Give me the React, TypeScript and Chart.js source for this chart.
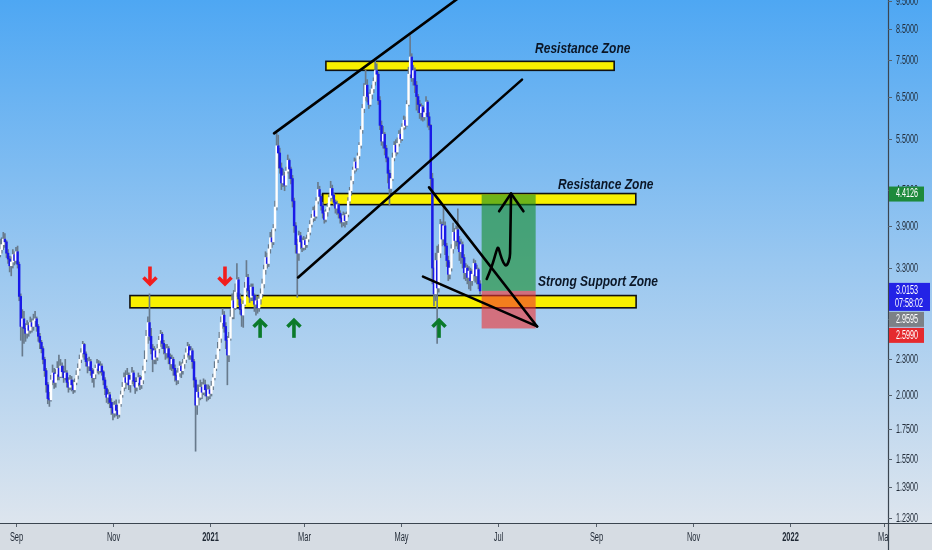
import React, { useEffect, useRef } from 'react';
import { Chart, registerables } from 'chart.js';

Chart.register(...registerables);

// ---- candle data (daily, day 0 = 1 Sep 2020) ----
const START_DAY = -10;
const FIRST_OPEN = 3.48;
const closes = [
  3.55, 3.62, 3.70, 3.66, 3.50, 3.42, 3.33, 3.38, 3.48, 3.40,
  3.52, 3.35, 2.95, 2.62, 2.70, 2.60, 2.55, 2.63, 2.58, 2.66,
  2.62, 2.68, 2.70, 2.62, 2.52, 2.46, 2.40, 2.30, 2.20, 2.08,
  1.97, 1.96, 2.12, 2.18, 2.10, 2.17, 2.22, 2.15, 2.24, 2.19,
  2.14, 2.18, 2.10, 2.06, 2.12, 2.08, 2.04, 2.10, 2.16, 2.22,
  2.30, 2.36, 2.44, 2.35, 2.28, 2.24, 2.28, 2.20, 2.14, 2.17,
  2.22, 2.26, 2.20, 2.24, 2.19, 2.12, 2.05, 1.98, 2.00, 1.94,
  1.90, 1.86, 1.92, 1.88, 1.85, 1.93, 2.00, 2.06, 2.14, 2.10,
  2.16, 2.08, 2.12, 2.18, 2.11, 2.06, 2.10, 2.14, 2.08, 2.12,
  2.20, 2.30, 2.52, 2.66, 2.52, 2.40, 2.30, 2.38, 2.32, 2.40,
  2.48, 2.54, 2.45, 2.40, 2.36, 2.40, 2.32, 2.26, 2.30, 2.22,
  2.16, 2.12, 2.18, 2.24, 2.20, 2.26, 2.30, 2.36, 2.42, 2.34,
  2.38, 2.28, 2.12, 1.92, 2.02, 1.98, 2.06, 2.02, 2.08, 2.04,
  1.99, 2.04, 2.01, 2.07, 2.14, 2.22, 2.30, 2.40, 2.50, 2.66,
  2.74, 2.62, 2.48, 2.34, 2.50, 2.72, 2.90, 2.82, 3.00, 3.15,
  2.92, 2.80, 2.74, 2.86, 3.05, 3.18, 3.02, 2.94, 3.06, 2.96,
  2.86, 2.90, 2.82, 2.92, 2.98, 3.10, 3.28, 3.44, 3.36, 3.56,
  3.72, 3.66, 3.86, 4.20, 5.35, 5.20, 4.90, 4.62, 4.75, 4.58,
  4.84, 5.05, 4.88, 4.70, 4.30, 3.90, 3.62, 3.50, 3.75, 3.66,
  3.58, 3.68, 3.62, 3.70, 3.80, 3.92, 4.02, 4.14, 4.05, 4.30,
  4.50, 4.38, 4.22, 4.10, 4.00, 4.12, 4.20, 4.36, 4.52, 4.40,
  4.28, 4.18, 4.24, 4.10, 4.02, 3.96, 4.06, 3.98, 4.08, 4.30,
  4.48, 4.66, 4.86, 5.02, 4.90, 5.14, 5.36, 5.70, 6.20, 6.50,
  6.80, 6.50, 6.30, 6.56, 6.70, 6.90, 7.20, 7.10, 6.40, 5.80,
  5.45, 5.60, 5.30, 5.10, 4.80, 4.52, 4.70, 5.10, 5.36, 5.22,
  5.40, 5.60, 5.50, 5.76, 5.92, 5.80, 6.30, 7.10, 7.60, 7.00,
  7.20, 6.80, 6.50, 6.30, 6.10, 6.24, 6.00, 6.10, 6.36, 6.00,
  5.80, 4.70, 3.30, 2.98, 3.40, 3.05, 3.50, 3.92, 3.70, 3.90,
  3.60, 3.40, 3.22, 3.30, 3.56, 3.80, 3.68, 3.84, 3.66, 3.52,
  3.62, 3.44, 3.24, 3.30, 3.18, 3.26, 3.14, 3.22, 3.36, 3.20,
  3.28, 3.10, 3.0153,
];
const highs = [
  3.70, 3.72, 3.80, 3.78, 3.68, 3.55, 3.46, 3.45, 3.55, 3.52,
  3.58, 3.60, 3.38, 2.98, 2.80, 2.78, 2.65, 2.68, 2.66, 2.72,
  2.70, 2.75, 2.78, 2.72, 2.64, 2.55, 2.48, 2.42, 2.32, 2.22,
  2.10, 2.02, 2.16, 2.25, 2.22, 2.21, 2.28, 2.34, 2.30, 2.27,
  2.24, 2.30, 2.20, 2.14, 2.16, 2.15, 2.12, 2.13, 2.20, 2.26,
  2.34, 2.40, 2.47, 2.45, 2.37, 2.31, 2.32, 2.30, 2.22, 2.21,
  2.25, 2.30, 2.29, 2.28, 2.26, 2.20, 2.14, 2.07, 2.04, 2.02,
  1.97, 1.94, 1.95, 1.96, 1.92, 1.96, 2.03, 2.10, 2.18, 2.20,
  2.22, 2.18, 2.16, 2.23, 2.20, 2.14, 2.14, 2.18, 2.16, 2.15,
  2.24, 2.38, 2.58, 2.72, 2.98, 2.60, 2.44, 2.42, 2.40, 2.44,
  2.52, 2.58, 2.56, 2.48, 2.44, 2.44, 2.42, 2.35, 2.34, 2.32,
  2.25, 2.20, 2.22, 2.28, 2.27, 2.30, 2.34, 2.40, 2.46, 2.44,
  2.42, 2.40, 2.30, 2.14, 2.08, 2.08, 2.12, 2.10, 2.13, 2.12,
  2.08, 2.08, 2.07, 2.11, 2.17, 2.28, 2.34, 2.46, 2.56, 2.72,
  2.81, 2.78, 2.66, 2.52, 2.56, 2.80, 2.98, 3.02, 3.10, 3.36,
  3.18, 2.98, 2.86, 2.90, 3.12, 3.40, 3.22, 3.08, 3.10, 3.10,
  2.98, 2.96, 2.94, 2.96, 3.04, 3.16, 3.34, 3.52, 3.50, 3.62,
  3.80, 3.84, 3.92, 4.30, 5.62, 5.58, 5.30, 5.00, 4.88, 4.82,
  4.92, 5.16, 5.08, 4.92, 4.76, 4.35, 3.95, 3.70, 3.82, 3.80,
  3.72, 3.74, 3.72, 3.76, 3.86, 3.98, 4.08, 4.20, 4.22, 4.36,
  4.63, 4.56, 4.42, 4.28, 4.14, 4.16, 4.26, 4.42, 4.65, 4.58,
  4.44, 4.32, 4.30, 4.26, 4.14, 4.08, 4.12, 4.10, 4.12, 4.36,
  4.54, 4.74, 4.92, 5.10, 5.08, 5.20, 5.42, 5.78, 6.30, 6.84,
  7.21, 6.95, 6.60, 6.68, 6.80, 7.00, 7.55, 7.40, 7.15, 6.50,
  5.90, 5.78, 5.64, 5.36, 5.12, 4.86, 4.80, 5.20, 5.44, 5.48,
  5.52, 5.68, 5.72, 5.84, 6.02, 6.00, 6.40, 7.30, 8.27, 7.70,
  7.35, 7.28, 6.90, 6.56, 6.40, 6.32, 6.28, 6.20, 6.50, 6.40,
  6.10, 5.82, 4.80, 3.40, 3.50, 3.60, 3.62, 4.00, 3.96, 4.21,
  3.96, 3.64, 3.46, 3.38, 3.62, 3.94, 3.86, 3.90, 4.17, 3.74,
  3.70, 3.66, 3.48, 3.36, 3.34, 3.32, 3.30, 3.28, 3.42, 3.40,
  3.34, 3.30, 3.14,
];
const lows = [
  3.45, 3.50, 3.55, 3.58, 3.44, 3.36, 3.25, 3.20, 3.30, 3.34,
  3.36, 3.30, 2.90, 2.48, 2.33, 2.45, 2.47, 2.50, 2.52, 2.55,
  2.56, 2.58, 2.62, 2.57, 2.47, 2.40, 2.36, 2.26, 2.15, 2.02,
  1.93, 1.91, 1.95, 2.08, 2.05, 2.06, 2.12, 2.12, 2.14, 2.14,
  2.10, 2.12, 2.06, 2.02, 2.04, 2.03, 2.01, 2.02, 2.08, 2.13,
  2.20, 2.27, 2.32, 2.30, 2.24, 2.18, 2.20, 2.16, 2.10, 2.06,
  2.13, 2.18, 2.17, 2.18, 2.16, 2.08, 2.00, 1.94, 1.93, 1.90,
  1.85, 1.81, 1.83, 1.84, 1.82, 1.83, 1.91, 1.98, 2.03, 2.05,
  2.08, 2.04, 2.02, 2.09, 2.07, 2.01, 2.03, 2.07, 2.04, 2.05,
  2.09, 2.18, 2.28, 2.45, 2.48, 2.35, 2.19, 2.26, 2.26, 2.29,
  2.36, 2.42, 2.40, 2.35, 2.30, 2.31, 2.26, 2.21, 2.20, 2.16,
  2.11, 2.08, 2.09, 2.15, 2.14, 2.17, 2.22, 2.27, 2.32, 2.30,
  2.30, 2.22, 2.06, 1.60, 1.85, 1.92, 1.96, 1.97, 2.00, 1.99,
  1.95, 1.96, 1.97, 1.99, 2.04, 2.12, 2.20, 2.27, 2.38, 2.46,
  2.60, 2.56, 2.40, 2.08, 2.28, 2.48, 2.70, 2.70, 2.80, 2.95,
  2.85, 2.75, 2.62, 2.61, 2.84, 3.00, 2.96, 2.88, 2.90, 2.90,
  2.78, 2.74, 2.76, 2.78, 2.86, 2.94, 3.05, 3.22, 3.30, 3.32,
  3.50, 3.58, 3.62, 3.82, 4.15, 4.90, 4.80, 4.50, 4.55, 4.48,
  4.56, 4.80, 4.70, 4.60, 4.20, 3.80, 3.50, 2.94, 3.40, 3.56,
  3.52, 3.54, 3.55, 3.58, 3.66, 3.76, 3.88, 3.96, 3.98, 4.02,
  4.25, 4.30, 4.15, 4.02, 3.94, 3.96, 4.05, 4.15, 4.30, 4.34,
  4.22, 4.10, 4.08, 4.02, 3.94, 3.88, 3.90, 3.88, 3.92, 4.04,
  4.26, 4.40, 4.60, 4.80, 4.84, 4.88, 5.08, 5.30, 5.62, 6.10,
  6.40, 6.36, 6.20, 6.26, 6.44, 6.60, 6.80, 6.90, 6.30, 5.70,
  5.36, 5.30, 5.16, 5.02, 4.62, 4.22, 4.44, 4.66, 5.04, 5.14,
  5.18, 5.34, 5.42, 5.46, 5.70, 5.72, 5.78, 6.26, 7.00, 6.90,
  6.80, 6.60, 6.16, 6.10, 5.96, 5.92, 5.90, 5.92, 6.04, 5.76,
  5.70, 4.50, 3.10, 2.84, 2.90, 2.45, 3.00, 3.44, 3.60, 3.62,
  3.48, 3.32, 3.14, 3.16, 3.26, 3.50, 3.56, 3.60, 3.56, 3.40,
  3.36, 3.30, 3.16, 3.14, 3.10, 3.04, 3.02, 3.08, 3.14, 3.12,
  3.10, 3.04, 2.98,
];

// ---- axes ----
const X_MIN = -10.07;
const X_MAX = 548.7;
const Y_MIN = 1.2047;
const Y_MAX = 9.52;
const xTickDays = [0, 61, 122, 181, 242, 303, 365, 426, 487, 546];
const xTickLabels = ['Sep', 'Nov', '2021', 'Mar', 'May', 'Jul', 'Sep', 'Nov', '2022', 'Mar'];
const yTickValues = [9.5, 8.5, 7.5, 6.5, 5.5, 4.5, 3.9, 3.3, 2.7, 2.3, 2.0, 1.75, 1.55, 1.39, 1.23];

// ---- drawings (day, price) ----
const zones: number[][] = [
  [195, 376.4, 7.47, 7.21],
  [193, 390, 4.43, 4.24],
  [71.7, 390.2, 2.96, 2.82],
];
const trendLines: number[][] = [
  [162.4, 5.62, 285.7, 9.92],
  [177.5, 3.18, 318.4, 6.95],
  [259.9, 4.54, 327.9, 2.62],
  [256.1, 3.19, 327.9, 2.62],
];
const positionDays = [293, 327];
const entryPrice = 3.0153;
const targetPrice = 4.4126;
const stopPrice = 2.599;
const redArrowDays = [84.3, 131.5];
const redArrowTipPrice = 3.08;
const greenArrowDays = [153.6, 174.9, 266.2];
const greenArrowTipPrice = 2.7;
const pathDays = [296.2, 299.4, 302.5, 303.5, 304.6, 306.7, 308.8, 310.9, 311.5];
const pathPrices = [3.16, 3.31, 3.55, 3.59, 3.49, 3.36, 3.32, 3.44, 4.43];
const headDays = [304.0, 319.3];
const headPrice = 4.13;
const noteTexts = ['Resistance Zone', 'Resistance Zone', 'Strong Support Zone'];
const noteDays = [326.6, 341.1, 328.5];
const notePrices = [7.86, 4.59, 3.12];
const tagValues = [4.4126, 3.0153, 2.9595, 2.599];
const tagColors = ['#1d8a3b', '#2323e6', '#7c8187', '#e52a2e'];
const tagSubs = ['', '07:58:02', '', ''];

const SANS = "'Liberation Sans', Arial, sans-serif";

function squeezedText(ctx: any, text: string, x: number, y: number, sx: number, align: 'left' | 'center') {
  ctx.save();
  ctx.translate(x, y);
  ctx.scale(sx, 1);
  ctx.textAlign = align;
  ctx.fillText(text, 0, 0);
  ctx.restore();
}

export default function App() {
  const ref = useRef<HTMLCanvasElement | null>(null);

  useEffect(() => {
    const canvas = ref.current;
    if (!canvas) return;

    const days = closes.map((_, i) => START_DAY + i);
    const opens = closes.map((_, i) => (i === 0 ? FIRST_OPEN : closes[i - 1]));
    const wickData = days.map((d, i) => ({
      x: d,
      y: [Math.min(lows[i], opens[i], closes[i]), Math.max(highs[i], opens[i], closes[i])],
    }));
    const bodyData = days.map((d, i) => ({
      x: d,
      y: [Math.min(opens[i], closes[i]), Math.max(opens[i], closes[i])],
    }));
    const bodyColors = days.map((_, i) => (closes[i] >= opens[i] ? '#ffffff' : '#1a1ae8'));

    const bgPlugin = {
      id: 'bg',
      beforeDraw(chart: any) {
        const { ctx, chartArea } = chart;
        ctx.save();
        const g = ctx.createLinearGradient(0, 0, 0, chartArea.bottom);
        g.addColorStop(0, 'rgb(78,167,243)');
        g.addColorStop(0.5, 'rgb(153,199,240)');
        g.addColorStop(1, 'rgb(221,229,238)');
        ctx.fillStyle = g;
        ctx.fillRect(0, 0, chart.width, chartArea.bottom);
        ctx.fillStyle = '#d6dce3';
        ctx.fillRect(0, chartArea.bottom, chart.width, chart.height - chartArea.bottom);
        ctx.restore();
      },
      beforeDatasetsDraw(chart: any) {
        const { ctx, chartArea, scales } = chart;
        const xs = scales.x, ys = scales.y;
        ctx.save();
        ctx.beginPath();
        ctx.rect(chartArea.left, chartArea.top, chartArea.right - chartArea.left, chartArea.bottom - chartArea.top);
        ctx.clip();
        zones.forEach(([d0, d1, p0, p1]) => {
          const x0 = xs.getPixelForValue(d0), x1 = xs.getPixelForValue(d1);
          const y0 = ys.getPixelForValue(p0), y1 = ys.getPixelForValue(p1);
          ctx.fillStyle = '#f8f000';
          ctx.fillRect(x0, y0, x1 - x0, y1 - y0);
          ctx.lineWidth = 1.6;
          ctx.strokeStyle = '#111';
          ctx.strokeRect(x0, y0, x1 - x0, y1 - y0);
        });
        ctx.restore();
      },
      afterDatasetsDraw(chart: any) {
        const { ctx, chartArea, scales } = chart;
        const xs = scales.x, ys = scales.y;
        const X = (d: number) => xs.getPixelForValue(d);
        const Y = (p: number) => ys.getPixelForValue(p);
        ctx.save();
        ctx.beginPath();
        ctx.rect(chartArea.left, chartArea.top, chartArea.right - chartArea.left, chartArea.bottom - chartArea.top);
        ctx.clip();

        // position box
        const px0 = X(positionDays[0]), px1 = X(positionDays[1]);
        ctx.fillStyle = 'rgba(20,140,40,0.6)';
        ctx.fillRect(px0, Y(targetPrice), px1 - px0, Y(entryPrice) - Y(targetPrice));
        ctx.fillStyle = 'rgba(240,50,50,0.6)';
        ctx.fillRect(px0, Y(entryPrice), px1 - px0, Y(stopPrice) - Y(entryPrice));

        // trend lines
        ctx.strokeStyle = '#000';
        ctx.lineWidth = 2.6;
        ctx.lineCap = 'round';
        trendLines.forEach(([d0, p0, d1, p1]) => {
          ctx.beginPath();
          ctx.moveTo(X(d0), Y(p0));
          ctx.lineTo(X(d1), Y(p1));
          ctx.stroke();
        });

        // curved arrow
        const pts = pathDays.map((d, i) => [X(d), Y(pathPrices[i])]);
        ctx.lineJoin = 'round';
        ctx.beginPath();
        ctx.moveTo(pts[0][0], pts[0][1]);
        for (let i = 1; i < pts.length - 2; i++) {
          const mx = (pts[i][0] + pts[i + 1][0]) / 2;
          const my = (pts[i][1] + pts[i + 1][1]) / 2;
          ctx.quadraticCurveTo(pts[i][0], pts[i][1], mx, my);
        }
        const n = pts.length;
        ctx.quadraticCurveTo(pts[n - 2][0], pts[n - 2][1], pts[n - 2][0], pts[n - 2][1] - 4);
        ctx.lineTo(pts[n - 1][0], pts[n - 1][1]);
        ctx.stroke();
        ctx.beginPath();
        ctx.moveTo(X(headDays[0]), Y(headPrice));
        ctx.lineTo(pts[n - 1][0], pts[n - 1][1]);
        ctx.lineTo(X(headDays[1]), Y(headPrice));
        ctx.stroke();

        // small arrows
        const drawArrow = (x: number, tipY: number, dir: number, color: string) => {
          ctx.strokeStyle = color;
          ctx.lineWidth = 3.6;
          ctx.lineCap = 'butt';
          ctx.lineJoin = 'miter';
          ctx.beginPath();
          ctx.moveTo(x, tipY - dir * 19);
          ctx.lineTo(x, tipY - dir * 2);
          ctx.stroke();
          ctx.beginPath();
          ctx.moveTo(x - 6.5, tipY - dir * 8);
          ctx.lineTo(x, tipY - dir * 1.5);
          ctx.lineTo(x + 6.5, tipY - dir * 8);
          ctx.stroke();
        };
        redArrowDays.forEach((d) => drawArrow(X(d), Y(redArrowTipPrice), 1, '#f21d1d'));
        greenArrowDays.forEach((d) => drawArrow(X(d), Y(greenArrowTipPrice), -1, '#0b7a2a'));

        // texts
        ctx.fillStyle = '#0b1626';
        ctx.font = `italic bold 15px ${SANS}`;
        ctx.textBaseline = 'middle';
        noteTexts.forEach((t, i) => squeezedText(ctx, t, X(noteDays[i]), Y(notePrices[i]), 0.8, 'left'));
        ctx.restore();
      },
      afterDraw(chart: any) {
        const { ctx, chartArea, scales } = chart;
        const xs = scales.x, ys = scales.y;
        const right = chartArea.right, bottom = chartArea.bottom;
        ctx.save();
        // bottom axis
        ctx.save();
        ctx.beginPath();
        ctx.rect(0, bottom, right, chart.height - bottom);
        ctx.clip();
        ctx.strokeStyle = '#56606b';
        ctx.lineWidth = 1;
        ctx.textBaseline = 'middle';
        xTickDays.forEach((d, i) => {
          const x = Math.round(xs.getPixelForValue(d)) + 0.5;
          ctx.beginPath();
          ctx.moveTo(x, bottom);
          ctx.lineTo(x, bottom + 4);
          ctx.stroke();
          const bold = /^\d{4}$/.test(xTickLabels[i]);
          ctx.font = `${bold ? 'bold ' : ''}12px ${SANS}`;
          ctx.fillStyle = '#1e2733';
          squeezedText(ctx, xTickLabels[i], x, bottom + 15, 0.62, 'center');
        });
        ctx.restore();

        ctx.strokeStyle = '#3b4550';
        ctx.lineWidth = 1.2;
        ctx.beginPath();
        ctx.moveTo(0, bottom + 0.5);
        ctx.lineTo(chart.width, bottom + 0.5);
        ctx.stroke();
        ctx.beginPath();
        ctx.moveTo(right + 0.5, 0);
        ctx.lineTo(right + 0.5, chart.height);
        ctx.stroke();

        // right axis ticks
        ctx.font = `12px ${SANS}`;
        ctx.textBaseline = 'middle';
        ctx.lineWidth = 1;
        yTickValues.forEach((v) => {
          const y = Math.round(ys.getPixelForValue(v)) + 0.5;
          ctx.strokeStyle = '#56606b';
          ctx.beginPath();
          ctx.moveTo(right, y);
          ctx.lineTo(right + 4, y);
          ctx.stroke();
          ctx.fillStyle = '#222c39';
          squeezedText(ctx, v.toFixed(4), right + 8, y, 0.6, 'left');
        });

        // price tags
        let lastBottom = -1000;
        tagValues.forEach((v, i) => {
          const py = ys.getPixelForValue(v);
          const h = tagSubs[i] ? 28 : 15;
          const top = Math.max(py - 8, lastBottom + 1);
          ctx.fillStyle = tagColors[i];
          ctx.fillRect(right + 1, top, tagSubs[i] ? 41 : 35, h);
          ctx.fillStyle = '#ffffff';
          ctx.font = `12px ${SANS}`;
          squeezedText(ctx, v.toFixed(4), right + 8, top + 7.5, 0.6, 'left');
          if (tagSubs[i]) squeezedText(ctx, tagSubs[i], right + 7, top + 20.5, 0.6, 'left');
          lastBottom = top + h;
        });
        ctx.restore();
      },
    };

    const chart = new Chart(canvas, {
      type: 'bar',
      data: {
        datasets: [
          {
            label: 'wick',
            data: wickData as any,
            backgroundColor: '#687a8c',
            barThickness: 1,
            grouped: false,
            order: 2,
          },
          {
            label: 'body',
            data: bodyData as any,
            backgroundColor: bodyColors,
            barThickness: 1.8,
            grouped: false,
            order: 1,
          },
        ],
      },
      options: {
        animation: false,
        responsive: false,
        devicePixelRatio: 1,
        layout: { padding: 0 },
        plugins: { legend: { display: false }, tooltip: { enabled: false } },
        scales: {
          x: {
            type: 'linear',
            offset: false,
            min: X_MIN,
            max: X_MAX,
            grid: { display: false, offset: false },
            border: { display: false },
            ticks: { display: false },
            afterFit: (s: any) => { s.height = 27; },
          },
          y: {
            type: 'logarithmic',
            position: 'right',
            min: Y_MIN,
            max: Y_MAX,
            grid: { display: false },
            border: { display: false },
            ticks: { display: false },
            afterFit: (s: any) => { s.width = 44; },
          },
        },
      } as any,
      plugins: [bgPlugin],
    });
    return () => chart.destroy();
  }, []);

  return (
    <div style={{ position: 'absolute', left: 0, top: 0, width: 932, height: 550 }}>
      <canvas ref={ref} width={932} height={550} style={{ display: 'block', width: 932, height: 550 }} />
    </div>
  );
}
